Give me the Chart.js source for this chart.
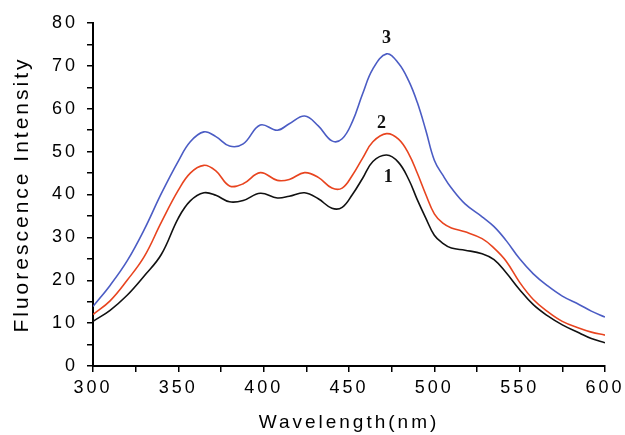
<!DOCTYPE html>
<html>
<head>
<meta charset="utf-8">
<script src="https://cdn.jsdelivr.net/npm/chart.js@4"></script>
<style>
html,body{margin:0;padding:0;background:#fff;}
#wrap{width:625px;height:435px;position:relative;}
</style>
</head>
<body>
<div id="wrap"><canvas id="c" width="625" height="435"></canvas></div>
<script>
const wavelengths = [300,310,320,330,340,350,357,365,372,380,388,398,408,415,424,432,440,446,452,458,464,472,479,485,490,495,500,505,510,518,528,535,542,550,558,566,575,585,592,600];
const series1 = [10.4,13.0,16.5,21,26,34.5,38.5,40.4,39.8,38.3,38.6,40.3,39.2,39.6,40.4,39,36.8,37,40,43.8,47.7,49.2,47.5,43.5,38.8,34.5,30.5,28.6,27.5,27,26.2,24.8,21.8,17.8,14.3,11.8,9.6,7.7,6.4,5.4];
const series2 = [12.0,15.2,20,25.5,33.5,41,45,46.8,45.5,42,42.5,45.1,43.3,43.5,45.1,44,41.5,41.5,44.5,48.5,52.3,54.2,52.9,49.5,45,40,35.5,33.3,32.2,31.3,29.7,27.5,24.5,19.5,15.5,12.8,10.4,8.8,7.9,7.2];
const series3 = [13.9,18.8,24.5,31.8,40.2,47.8,52.3,54.6,53.5,51.3,51.8,56.2,55.0,56.5,58.3,56,52.5,53,57,63.5,69.3,72.8,70.6,66.5,61.5,55,48,44.5,41.5,37.8,34.8,32.5,29.3,25,21.5,18.8,16.3,14.3,12.8,11.4];
const curveNames = ['1','2','3'];
const nameAnchorX = [473,469,472];
const nameAnchorY = [44,56.6,76.5];

const toPts = arr => arr.map((v,i)=>({x:wavelengths[i], y:v}));

const spacingPlugin = {
  id:'spacing',
  beforeDraw(chart){ chart.ctx.letterSpacing = '3px'; }
};
const namePlugin = {
  id:'names',
  afterDraw(chart){
    const ctx = chart.ctx;
    const xs = chart.scales.x, ys = chart.scales.y;
    ctx.save();
    ctx.letterSpacing = '0px';
    ctx.font = 'bold 18px "Liberation Serif", serif';
    ctx.fillStyle = '#111';
    ctx.textAlign = 'center';
    ctx.textBaseline = 'middle';
    curveNames.forEach((n,i)=>{
      ctx.fillText(n, xs.getPixelForValue(nameAnchorX[i]), ys.getPixelForValue(nameAnchorY[i]));
    });
    ctx.restore();
  }
};

new Chart(document.getElementById('c'), {
  type:'line',
  data:{
    datasets:[
      {label:'1', data:toPts(series1), borderColor:'#111111', borderWidth:1.6, pointRadius:0, tension:0.4, fill:false},
      {label:'2', data:toPts(series2), borderColor:'#e8441f', borderWidth:1.6, pointRadius:0, tension:0.4, fill:false},
      {label:'3', data:toPts(series3), borderColor:'#4b5cc4', borderWidth:1.6, pointRadius:0, tension:0.4, fill:false}
    ]
  },
  options:{
    responsive:false,
    animation:false,
    events:[],
    layout:{padding:{left:0,top:23,right:18,bottom:0}},
    plugins:{legend:{display:false}, tooltip:{enabled:false}},
    scales:{
      x:{
        type:'linear', min:300, max:600,
        border:{display:true,color:'#000',width:2},
        grid:{drawOnChartArea:false, drawTicks:true, tickLength:6, color:'#000', lineWidth:1.5},
        ticks:{stepSize:25, autoSkip:false, maxRotation:0, padding:5, color:'#000',
          font:{family:'"Liberation Sans", Arial, sans-serif', size:18},
          callback:v => (v%50===0 ? String(v) : '')},
        title:{display:true, text:'Wavelength(nm)', color:'#000',
          font:{family:'"Liberation Sans", Arial, sans-serif', size:19}, padding:{top:0,bottom:1}},
        afterFit(s){ s.height = 69; }
      },
      y:{
        min:0, max:80,
        border:{display:true,color:'#000',width:2},
        grid:{drawOnChartArea:false, drawTicks:true, tickLength:6, color:'#000', lineWidth:1.5},
        ticks:{stepSize:5, autoSkip:false, padding:9, color:'#000',
          font:{family:'"Liberation Sans", Arial, sans-serif', size:18},
          callback:v => (v%10===0 ? String(v) : '')},
        title:{display:true, text:'Fluorescence Intensity', color:'#000',
          font:{family:'"Liberation Sans", Arial, sans-serif', size:21}, padding:{top:10,bottom:0}},
        afterFit(s){ s.width = 93; }
      }
    }
  },
  plugins:[spacingPlugin, namePlugin]
});
</script>
</body>
</html>
